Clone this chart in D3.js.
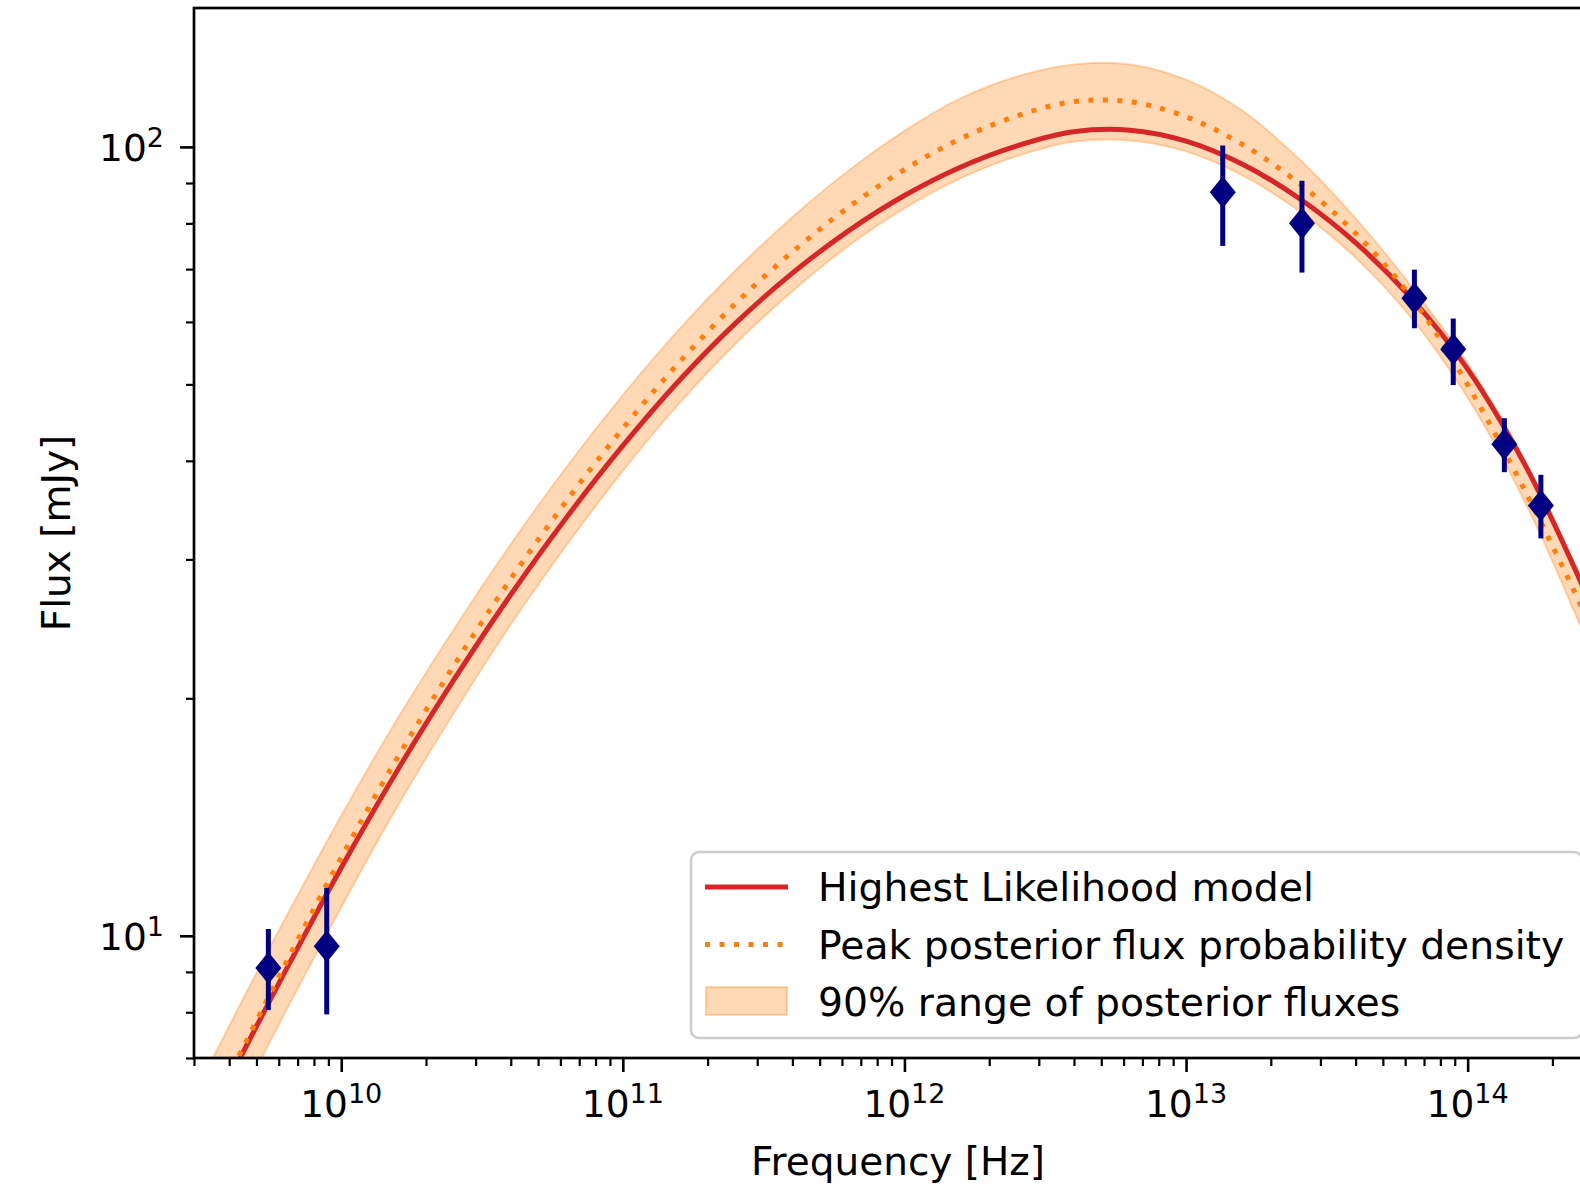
<!DOCTYPE html>
<html><head><meta charset="utf-8">
<script src="https://cdn.jsdelivr.net/npm/d3@7"></script>
<style>
html,body{margin:0;padding:0;background:#fff;overflow:hidden;}
svg{display:block;font-family:"DejaVu Sans",sans-serif;}
</style></head><body>
<svg id="chart" width="1580" height="1195"></svg>
<script>
// ---- data ----
const curveFreq = [3.16e9, 3.98e9, 6.31e9, 1e10, 1.58e10, 2.51e10, 3.98e10, 6.31e10, 1e11, 1.58e11, 2.51e11, 3.98e11, 6.31e11, 1e12, 1.58e12, 2.51e12, 3.98e12, 6.31e12, 1e13, 1.58e13, 2.51e13, 3.98e13, 6.31e13, 1e14, 1.58e14, 2.51e14, 3.16e14];
const bestFit       = [5.563, 6.551, 9.00, 12.20, 16.19, 21.10, 27.00, 33.91, 41.81, 50.50, 59.75, 69.08, 78.22, 86.77, 94.25, 100.3, 104.5, 105.0, 101.7, 95.13, 86.15, 75.73, 64.31, 52.28, 39.84, 28.20, 23.19];
const peakPosterior = [5.614, 6.627, 9.19, 12.57, 16.80, 22.00, 28.27, 35.59, 43.98, 53.24, 63.29, 73.50, 83.81, 93.61, 102.4, 109.5, 114.1, 114.1, 109.2, 100.8, 90.0, 77.86, 64.45, 49.93, 36.93, 26.32, 21.74];
const rangeHigh     = [6.506, 7.661, 10.50, 14.20, 18.81, 24.45, 31.28, 39.29, 48.45, 58.66, 69.72, 81.35, 93.19, 104.8, 115.2, 122.8, 127.2, 127.2, 121.7, 111.3, 96.67, 81.35, 66.57, 53.13, 40.30, 28.53, 23.46];
const rangeLow      = [4.923, 5.799, 7.986, 10.87, 14.57, 19.16, 24.74, 31.28, 38.85, 47.24, 56.27, 65.52, 74.87, 83.60, 91.24, 97.34, 101.5, 101.9, 98.70, 92.11, 83.04, 72.49, 60.72, 48.13, 35.76, 24.74, 20.10];

const obsFreq = [5.51e9, 8.88e9, 1.35e13, 2.58e13, 6.47e13, 8.89e13, 1.35e14, 1.82e14];
const obsFlux = [9.1, 9.7, 87.6, 80.0, 64.3, 55.4, 42.0, 35.1];
const obsLow  = [8.05, 7.95, 74.9, 69.3, 58.9, 49.9, 38.7, 31.9];
const obsHigh = [10.2, 11.5, 100.4, 90.6, 69.9, 60.6, 45.3, 38.4];

const xMajorTicks = [1e10, 1e11, 1e12, 1e13, 1e14];
const xTickExp = ["10", "11", "12", "13", "14"];
const yMajorTicks = [10, 100];
const yTickExp = ["1", "2"];
const legendLabels = ["Highest Likelihood model", "Peak posterior flux probability density", "90% range of posterior fluxes"];

// ---- layout ----
const L = 194, T = 8, R = 1602, B = 1058;
const svg = d3.select("#chart");
const x = d3.scaleLog().domain([3e9, 3e14]).range([L, R]);
const y = d3.scaleLog().domain([7, 150]).range([B, T]);

const RED = "#d62728", ORANGE = "#ff7f0e", NAVY = "#000080";

svg.append("defs").append("clipPath").attr("id", "clip")
  .append("rect").attr("x", L).attr("y", T).attr("width", R - L).attr("height", B - T);

const plot = svg.append("g").attr("clip-path", "url(#clip)");

const idx = d3.range(curveFreq.length);
const curve = d3.curveCatmullRom.alpha(0.5);

plot.append("path")
  .attr("d", d3.area().x(i => x(curveFreq[i])).y0(i => y(rangeLow[i])).y1(i => y(rangeHigh[i])).curve(curve)(idx))
  .attr("fill", ORANGE).attr("fill-opacity", 0.3)
  .attr("stroke", ORANGE).attr("stroke-opacity", 0.3).attr("stroke-width", 2);

plot.append("path")
  .attr("d", d3.line().x(i => x(curveFreq[i])).y(i => y(bestFit[i])).curve(curve)(idx))
  .attr("fill", "none").attr("stroke", RED).attr("stroke-width", 5);

plot.append("path")
  .attr("d", d3.line().x(i => x(curveFreq[i])).y(i => y(peakPosterior[i])).curve(curve)(idx))
  .attr("fill", "none").attr("stroke", ORANGE).attr("stroke-width", 5)
  .attr("stroke-dasharray", "5,9.5");

// error bars + diamonds
const obs = d3.range(obsFreq.length);
plot.selectAll("line.err").data(obs).join("line").attr("class", "err")
  .attr("x1", i => x(obsFreq[i])).attr("x2", i => x(obsFreq[i]))
  .attr("y1", i => y(obsLow[i])).attr("y2", i => y(obsHigh[i]))
  .attr("stroke", NAVY).attr("stroke-width", 5);
plot.selectAll("path.pt").data(obs).join("path").attr("class", "pt")
  .attr("d", i => {
    const cx = x(obsFreq[i]), cy = y(obsFlux[i]);
    return `M${cx},${cy - 16}L${cx + 13},${cy}L${cx},${cy + 16}L${cx - 13},${cy}Z`;
  })
  .attr("fill", NAVY);

// ---- axes ----
const xMinor = x.ticks().filter(v => !xMajorTicks.some(m => Math.abs(m - v) / m < 1e-6));
const yMinor = y.ticks().filter(v => !yMajorTicks.some(m => Math.abs(m - v) / m < 1e-6));

function styleAxis(g, w) {
  g.select(".domain").remove();
  g.selectAll(".tick line").attr("stroke", "#000").attr("stroke-width", w);
}
svg.append("g").attr("transform", `translate(0,${B})`)
  .call(d3.axisBottom(x).tickValues(xMinor).tickSize(8).tickFormat(""))
  .call(g => styleAxis(g, 2.2));
svg.append("g").attr("transform", `translate(0,${B})`)
  .call(d3.axisBottom(x).tickValues(xMajorTicks).tickSize(14).tickFormat(""))
  .call(g => styleAxis(g, 2.6));
svg.append("g").attr("transform", `translate(${L},0)`)
  .call(d3.axisLeft(y).tickValues(yMinor).tickSize(8).tickFormat(""))
  .call(g => styleAxis(g, 2.2));
svg.append("g").attr("transform", `translate(${L},0)`)
  .call(d3.axisLeft(y).tickValues(yMajorTicks).tickSize(14).tickFormat(""))
  .call(g => styleAxis(g, 2.6));

// tick labels with superscripts
xMajorTicks.forEach((v, i) => {
  const t = svg.append("text").attr("x", x(v)).attr("y", 1117)
    .attr("text-anchor", "middle").attr("font-size", 37.5).attr("fill", "#000");
  t.append("tspan").text("10");
  t.append("tspan").attr("dy", -14).attr("font-size", 27).text(xTickExp[i]);
});
yMajorTicks.forEach((v, i) => {
  const t = svg.append("text").attr("x", 164).attr("y", y(v) + 14)
    .attr("text-anchor", "end").attr("font-size", 37.5).attr("fill", "#000");
  t.append("tspan").text("10");
  t.append("tspan").attr("dy", -14).attr("font-size", 27).text(yTickExp[i]);
});

// frame
svg.append("rect").attr("x", L).attr("y", T).attr("width", R - L).attr("height", B - T)
  .attr("fill", "none").attr("stroke", "#000").attr("stroke-width", 2.7);

// axis labels
svg.append("text").attr("x", (L + R) / 2).attr("y", 1175).attr("text-anchor", "middle")
  .attr("font-size", 39).text("Frequency [Hz]");
svg.append("text").attr("transform", `translate(70,${(T + B) / 2}) rotate(-90)`)
  .attr("text-anchor", "middle").attr("font-size", 39).text("Flux [mJy]");

// ---- legend ----
const lg = svg.append("g");
lg.append("rect").attr("x", 691).attr("y", 852).attr("width", 891).attr("height", 186).attr("rx", 8)
  .attr("fill", "#fff").attr("fill-opacity", 0.8).attr("stroke", "#cccccc").attr("stroke-width", 2.5);
const baselines = [901, 958.5, 1016];
lg.append("line").attr("x1", 705).attr("x2", 788).attr("y1", baselines[0] - 14).attr("y2", baselines[0] - 14)
  .attr("stroke", RED).attr("stroke-width", 5);
lg.append("line").attr("x1", 705).attr("x2", 788).attr("y1", baselines[1] - 14).attr("y2", baselines[1] - 14)
  .attr("stroke", ORANGE).attr("stroke-width", 5).attr("stroke-dasharray", "5,9.5");
lg.append("rect").attr("x", 706).attr("y", baselines[2] - 29).attr("width", 81).attr("height", 28)
  .attr("fill", ORANGE).attr("fill-opacity", 0.3).attr("stroke", ORANGE).attr("stroke-opacity", 0.3).attr("stroke-width", 2);
legendLabels.forEach((s, i) => {
  lg.append("text").attr("x", 818).attr("y", baselines[i]).attr("font-size", 39.3).attr("fill", "#000").text(s);
});
</script>
</body></html>
